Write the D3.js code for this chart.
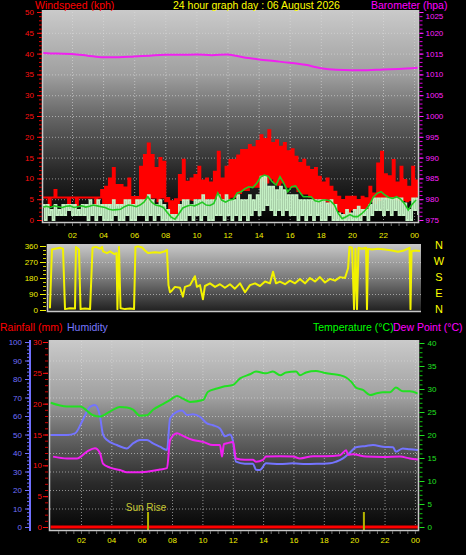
<!DOCTYPE html>
<html><head><meta charset="utf-8">
<script src="https://cdn.jsdelivr.net/npm/d3@7"></script>
<style>html,body{margin:0;padding:0;background:#000;}svg{display:block;}</style>
</head><body><svg id="c" width="466" height="555"></svg>
<script>
// ---------------- DATA ----------------
const titleText = "24 hour graph day : 06 August 2026";
const tickHours = [2,4,6,8,10,12,14,16,18,20,22,24];
const tickLabels = ["02","04","06","08","10","12","14","16","18","20","22","00"];

// wind (kph), 15-minute bins starting 00:07
const windStartHour = 0.125, windStepHours = 0.25;
const gustHigh = [5.4,5.4,5.4,7.2, 5.4,5.4,5.4,5.4, 5.4,5.4,5.4,5.4, 5.4,5.4,5.4,7.2,
  8.0,10.0,12.5,8.4, 8.4,7.8,10.0,5.5, 5.5,12.8,15.6,18.4, 15.6,12.5,14.9,14.0,
  5.3,4.5,5.0,10.8, 14.5,9.2,10.0,10.8, 12.8,9.5,10.0,9.0, 11.6,16.4,10.0,12.8,
  14.4,14.4,15.5,16.8, 16.8,18.0,17.5,19.0, 20.4,19.5,21.6,18.5, 19.2,17.6,18.5,16.5,
  17.0,15.2,13.7,14.5, 12.8,12.0,12.5,10.4, 9.0,10.0,8.0,6.8, 5.6,4.8,5.6,5.6,
  5.6,4.8,5.6,5.2, 8.0,6.4,13.6,16.4, 11.0,10.5,14.4,9.0, 12.8,9.6,8.0,12.8, 9.5];
const gustLow = [5.4,3.6,5.4,5.4, 5.4,5.4,3.6,5.4, 3.6,5.4,5.4,5.4, 5.4,3.6,5.4,3.6,
  3.6,4.0,3.6,3.6, 3.6,4.0,3.6,3.6, 3.6,4.0,4.5,5.4, 5.4,4.5,5.4,4.5,
  1.7,0.6,1.5,4.8, 4.8,5.0,4.8,5.3, 5.0,4.8,5.3,4.8, 5.3,4.8,5.0,5.3,
  5.6,5.6,6.5,7.2, 7.2,8.0,8.0,8.0, 9.5,9.0,10.0,9.0, 8.5,9.0,8.0,8.0,
  8.0,7.0,6.4,6.4, 5.6,4.8,5.2,4.8, 4.5,4.0,3.2,2.4, 2.0,1.6,1.5,2.5,
  1.6,1.0,2.4,3.0, 4.5,4.0,4.8,5.5, 5.2,5.2,5.0,4.8, 4.8,4.5,4.8,5.4, 5.6];
const windHigh = [3.6,3.6,2.4,3.6, 2.4,3.6,3.6,3.6, 3.6,2.4,3.6,3.6, 4.8,3.6,4.8,3.6,
  3.6,3.6,4.8,3.6, 3.6,4.8,4.8,3.6, 4.8,4.8,4.8,6.0, 4.8,3.6,4.8,3.6,
  2.4,1.2,1.2,3.6, 4.8,4.8,3.6,4.8, 4.8,6.0,4.8,4.8, 4.8,6.0,4.8,6.0,
  4.8,4.8,6.0,4.8, 4.8,6.0,4.8,6.0, 10.4,10.4,8.0,8.0, 7.2,8.0,7.2,6.0,
  6.0,6.0,4.8,4.8, 4.8,4.8,4.8,4.8, 4.8,4.0,4.8,3.6, 1.6,1.2,2.4,1.6,
  2.4,3.2,2.4,2.4, 3.6,5.2,5.2,5.2, 5.2,5.2,5.2,5.2, 5.2,4.0,2.4,5.2, 5.2];
const windLow = [0,1.2,0,1.2, 1.2,1.2,2.4,1.2, 1.2,1.2,1.2,0, 1.2,0,1.2,0,
  0,0,1.2,0, 0,1.2,0,0, 1.2,1.2,0,1.2, 0,1.2,0,0,
  0,0,0,0, 0,1.2,0,1.2, 0,1.2,0,0, 1.2,1.2,0,1.2,
  0,1.2,0,1.2, 0,1.2,2.4,1.2, 2.4,3.6,2.4,1.2, 2.4,1.2,2.4,1.2,
  1.2,0,1.2,0, 1.2,0,1.2,0, 0,1.2,0,0, 0,0,0,0,
  0,0,1.2,0, 1.2,2.4,2.4,1.2, 2.4,1.2,2.4,1.2, 1.2,0,0,2.4, 1.2];
const windAvg = [3.1,3.3,3.0,3.4, 3.2,3.0,3.3,3.4, 3.0,3.2,3.4,3.1, 3.3,3.6,3.4,3.2,
  3.0,2.6,2.4,2.5, 2.6,3.2,3.6,3.5, 3.2,3.6,4.3,5.6, 4.3,3.6,3.4,3.0,
  1.8,0.7,0.2,1.5, 2.9,3.3,3.6,3.4, 3.8,4.3,3.6,3.5, 4.0,6.5,4.8,4.3,
  4.8,5.0,6.5,6.8, 7.5,8.0,7.8,8.8, 10.3,10.8,10.5,9.2, 8.4,10.4,8.8,6.8,
  8.0,8.2,6.8,5.6, 5.6,5.6,4.6,4.4, 4.8,4.8,4.6,3.6, 1.6,0.3,0.8,1.3,
  0.8,0.8,1.5,2.4, 3.6,5.5,6.4,6.8, 6.0,5.4,5.2,5.6, 5.0,4.0,2.4,3.8, 4.8];

// barometer (hPa), hourly
const baroHours = [0,1,2,3,4,5,6,7,8,9,10,11,12,13,14,15,16,17,18,19,20,21,22,23,24.3];
const baroValues = [1015.2,1015.0,1014.9,1014.5,1014.1,1014.1,1014.3,1014.5,1014.7,1014.7,1014.8,1014.6,1014.8,
  1014.1,1013.6,1013.2,1012.8,1012.3,1011.5,1011.1,1011.0,1011.0,1011.2,1011.3,1011.6];

// wind direction (degrees)
const dirHours = [0.12,0.25,0.45,0.77,0.97,1.10,1.42,1.75,1.81,2.01,2.11,2.40,2.73,2.89,3.12,3.38,3.51,3.57,3.83,4.03,
  4.29,4.45,4.51,4.61,4.71,5.00,5.33,5.59,5.68,5.85,6.11,6.30,6.50,6.95,7.28,7.60,7.73,7.83,7.93,8.06,
  8.25,8.58,8.77,8.90,9.23,9.55,9.68,9.88,10.07,10.20,10.53,10.86,11.18,11.50,11.83,12.15,12.48,12.81,13.13,13.46,
  13.78,14.11,14.43,14.63,14.82,15.08,15.41,15.73,16.06,16.38,16.71,17.03,17.36,17.68,18.01,18.33,18.66,18.99,19.31,19.51,
  19.60,19.77,19.90,19.99,20.09,20.19,20.42,20.68,20.74,20.81,21.07,21.46,21.91,22.36,22.76,23.15,23.51,23.57,23.64,23.86,24.19];
const dirValues = [10,340,345,350,345,5,10,8,355,340,5,8,5,350,355,345,355,330,320,330,
  315,320,5,355,10,5,8,5,355,358,352,335,320,325,322,330,338,140,100,110,
  130,125,75,130,140,190,130,140,60,135,150,130,145,125,145,120,150,100,140,150,
  135,160,150,215,150,160,145,165,150,175,150,180,160,185,155,175,165,185,180,235,
  355,350,5,345,5,350,345,350,5,345,340,345,340,335,328,335,350,5,330,335,332];

// temperature / dew point (°C), humidity (%), rainfall (mm)
const tempHours = [0,1.08,1.94,2.79,3.25,3.91,4.57,5.03,5.43,5.89,6.35,6.75,7.4,7.86,8.33,8.72,9.18,10.04,10.37,10.96,
  11.36,12.02,12.48,13.14,13.53,14.19,14.65,15.12,15.51,16.17,16.43,16.83,17.49,17.95,18.41,19.07,19.47,19.8,20.12,20.58,
  21.04,21.43,21.89,22.36,22.75,23.21,23.67,24.2];
const tempValues = [27.0,26.2,26.2,24.3,24.0,25.1,26.1,26.0,25.5,24.2,24.3,25.5,26.7,27.6,28.5,27.9,27.2,27.6,29.4,30.1,
  30.5,30.9,32.3,33.2,33.8,33.4,33.8,33.0,33.6,33.8,33.0,33.6,33.9,33.6,33.3,33.0,32.5,31.6,30.3,29.8,
  28.7,29.0,29.3,29.3,30.3,29.5,29.5,29.0];
const dewHours = [0.16,1.08,1.74,2.4,2.92,3.25,3.45,3.91,4.57,5.03,5.89,6.55,7.21,7.67,7.87,8.33,8.72,9.38,10.04,10.7,
  11.16,11.29,11.42,11.62,12.02,12.21,12.8,13.33,13.53,13.99,14.19,15.11,15.97,16.43,17.29,18.14,19.07,19.47,19.6,19.92,
  20.78,21.9,23.02,23.67,24.2];
const dewValues = [15.3,14.9,14.9,16.4,17.1,16.1,13.8,12.9,12.4,11.9,11.9,12.1,12.5,12.8,18.9,20.4,19.8,18.9,18.5,17.8,
  17.8,15.3,18.0,18.2,18.5,14.9,14.6,14.6,14.2,14.6,15.3,15.4,15.3,14.9,15.4,15.4,15.6,16.7,15.7,15.8,
  15.3,15.2,15.3,14.9,14.7];
const humHours = [0,1.08,1.61,2.13,2.6,2.92,3.25,3.45,3.72,4.37,5.03,5.43,5.89,6.35,6.75,7.21,7.67,7.87,8.33,8.66,
  8.99,9.38,9.84,10.3,10.7,11.16,11.49,11.82,12.0,12.21,12.8,13.33,13.53,13.79,14.19,15.11,15.97,16.83,17.75,18.41,
  18.8,19.26,19.72,20.12,20.78,21.24,21.9,22.56,22.75,23.21,23.67,24.2];
const humValues = [49.7,49.7,50.6,58,65,66,60,50,47,44.3,42.5,45.2,47,47,45.2,43.4,41.6,58.7,62.3,63,
  60.5,61,59.6,56,55,53.3,49,50,47,35.3,34.2,34.2,31,30.8,34.4,34,34.4,34,34.2,34.4,
  35.3,37.1,40.2,43.1,43.8,44.3,43.4,43.1,40.7,42.5,42,41.6];
const rainHours = [0,1,2,3,4,5,6,7,8,9,10,11,12,13,14,15,16,17,18,19,20,21,22,23,24.2];
const rainValues = [0,0,0,0,0,0,0,0,0,0,0,0,0,0,0,0,0,0,0,0,0,0,0,0,0];
const sunHours = [6.42, 20.64];
const sunLabels = ["Sun Rise", ""];

// ---------------- DRAW ----------------
const svg = d3.select("#c");
const FONT = "'Liberation Sans', Arial, sans-serif";
const defs = svg.append("defs");
function grad(id, stops) {
  const g = defs.append("linearGradient").attr("id", id).attr("x1",0).attr("y1",0).attr("x2",0).attr("y2",1);
  stops.forEach(s => g.append("stop").attr("offset", s[0]).attr("stop-color", s[1]));
}
grad("g1", [[0,"#cacaca"],[0.3,"#a0a0a0"],[0.5,"#666"],[0.75,"#2a2a2a"],[1,"#000"]]);
grad("g2", [[0,"#c8c8c8"],[0.5,"#7a7a7a"],[1,"#1e1e1e"]]);
grad("g3", [[0,"#cacaca"],[0.3,"#a0a0a0"],[0.5,"#666"],[0.75,"#2a2a2a"],[1,"#050505"]]);

function clip(id, x, y, w, h) {
  defs.append("clipPath").attr("id", id).append("rect").attr("x", x).attr("y", y).attr("width", w).attr("height", h);
}
function txt(x, y, s, color, size, anchor) {
  return svg.append("text").attr("x", x).attr("y", y).text(s).attr("fill", color)
    .attr("font-family", FONT).attr("font-size", size).attr("text-anchor", anchor || "start");
}
function styleAxis(g, color, size) {
  g.select(".domain").remove();
  g.selectAll("line").attr("stroke", color);
  g.selectAll("text").attr("fill", color).attr("font-family", FONT).attr("font-size", size);
  return g;
}
function grid(g) {
  g.select(".domain").remove();
  g.selectAll("line").attr("stroke", "#dcdcdc").attr("stroke-dasharray", "1,2").attr("stroke-opacity", 0.6);
}
const intFmt = d3.format("d");

// ===== Panel 1: wind + barometer =====
const P1 = {l:43, r:418, t:10, b:223};
const x1 = d3.scaleLinear().domain([0,24]).range([40.9, 414.1]);
const y1 = d3.scaleLinear().domain([0,50]).range([220, 12]);
const yBaro = d3.scaleLinear().domain([975,1025]).range([220, 12]);
svg.append("rect").attr("x",P1.l).attr("y",P1.t).attr("width",P1.r-P1.l).attr("height",P1.b-P1.t).attr("fill","url(#g1)");
grid(svg.append("g").attr("transform",`translate(${P1.l},0)`).call(d3.axisLeft(y1).tickValues(d3.range(5,50,5)).tickSize(-(P1.r-P1.l)).tickFormat("")));
grid(svg.append("g").attr("transform",`translate(0,${P1.b})`).call(d3.axisBottom(x1).tickValues(tickHours).tickSize(-(P1.b-P1.t)).tickFormat("")));
clip("cp1", P1.l, P1.t, P1.r-P1.l, P1.b-P1.t-1);
const g1 = svg.append("g").attr("clip-path","url(#cp1)");
const windTimes = gustHigh.map((_, i) => windStartHour + i * windStepHours);
function zig(hi, lo) {
  const pts = [];
  hi.forEach((h, i) => { pts.push([windTimes[i], h]); pts.push([windTimes[i] + windStepHours/2, lo[i]]); });
  return pts;
}
const zline = d3.line().x(d => x1(d[0])).y(d => y1(d[1])).curve(d3.curveStepAfter);
g1.append("path").attr("d", zline(zig(gustHigh, gustLow))).attr("fill","none").attr("stroke","#ff0000").attr("stroke-width",2);
g1.append("path").attr("d", zline(zig(windHigh, windLow))).attr("fill","none").attr("stroke","#c4f0c4").attr("stroke-width",1.8);
g1.append("path").attr("d", d3.line().x((d,i)=>x1(windTimes[i])).y(d=>y1(d))(windAvg))
  .attr("fill","none").attr("stroke","#22c822").attr("stroke-width",1.6);
g1.append("path").attr("d", d3.line().x((d,i)=>x1(baroHours[i])).y(d=>yBaro(d)).curve(d3.curveMonotoneX)(baroValues))
  .attr("fill","none").attr("stroke","#f020f0").attr("stroke-width",2);
// frame
svg.append("path").attr("d",`M${P1.l-0.5},${P1.t}V${P1.b-0.5}H${P1.r+0.5}V${P1.t}`).attr("fill","none").attr("stroke","#c8c8c8").attr("stroke-width",1.5);
// axes
styleAxis(svg.append("g").attr("transform","translate(42,0)").call(d3.axisLeft(y1).ticks(50).tickSize(3).tickFormat("")), "#e00000", 8);
styleAxis(svg.append("g").attr("transform","translate(42,0)").call(d3.axisLeft(y1).tickValues(d3.range(0,51,5)).tickSize(5).tickPadding(3)), "#ff1010", 8);
styleAxis(svg.append("g").attr("transform","translate(419.5,0)").call(d3.axisRight(yBaro).ticks(50).tickSize(3).tickFormat("")), "#e000e0", 8);
const baroAxis = styleAxis(svg.append("g").attr("transform","translate(419.5,0)")
  .call(d3.axisRight(yBaro).tickValues(d3.range(975,1026,5)).tickSize(4).tickPadding(2).tickFormat(intFmt)), "#ff20ff", 8);
baroAxis.selectAll(".tick text").filter(d => d === 1025).attr("dy", "0.75em");
styleAxis(svg.append("g").attr("transform",`translate(0,${P1.b})`).call(d3.axisBottom(x1).tickValues(d3.range(0.5,24.3,0.5)).tickSize(3).tickFormat("")), "#707070", 8);
styleAxis(svg.append("g").attr("transform",`translate(0,${P1.b})`).call(d3.axisBottom(x1).tickValues(tickHours).tickSize(0).tickPadding(9).tickFormat((d,i)=>tickLabels[i])), "#f0f000", 8);
txt(35, 9, "Windspeed (kph)", "#ff0000", 10.5);
txt(173, 9, titleText, "#ffff00", 10.5);
txt(371, 9, "Barometer (hpa)", "#ff00ff", 10.5);

// ===== Panel 2: wind direction =====
const P2 = {l:48, r:421, t:244, b:312};
const x2 = d3.scaleLinear().domain([0,24]).range([48.1, 417.1]);
const yDir = d3.scaleLinear().domain([0,360]).range([310, 246]);
svg.append("rect").attr("x",P2.l).attr("y",P2.t).attr("width",P2.r-P2.l).attr("height",P2.b-P2.t).attr("fill","url(#g2)");
grid(svg.append("g").attr("transform",`translate(${P2.l},0)`).call(d3.axisLeft(yDir).tickValues([90,180,270]).tickSize(-(P2.r-P2.l)).tickFormat("")));
clip("cp2", P2.l, P2.t, P2.r-P2.l, P2.b-P2.t);
svg.append("g").attr("clip-path","url(#cp2)").append("path")
  .attr("d", d3.line().x((d,i)=>x2(dirHours[i])).y(d=>yDir(d))(dirValues))
  .attr("fill","none").attr("stroke","#f2f200").attr("stroke-width",2).attr("stroke-linejoin","round");
svg.append("path").attr("d",`M${P2.l-0.5},${P2.t}V${P2.b-0.5}H${P2.r}`).attr("fill","none").attr("stroke","#c8c8c8").attr("stroke-width",1.5);
styleAxis(svg.append("g").attr("transform","translate(46,0)").call(d3.axisLeft(yDir).tickValues(d3.range(0,361,22.5)).tickSize(3).tickFormat("")), "#d0d000", 8);
styleAxis(svg.append("g").attr("transform","translate(46,0)").call(d3.axisLeft(yDir).tickValues([0,90,180,270,360]).tickSize(6).tickPadding(2)), "#f0f000", 8);
const compass = ["N","W","S","E","N"], compassDeg = [360,270,180,90,0];
compass.forEach((c,i) => txt(439, yDir(compassDeg[i]) + 3, c, "#ffff00", 11, "middle"));

// ===== Panel 3: temperature / humidity / rain =====
const P3 = {l:50, r:418, t:340, b:531};
const x3 = d3.scaleLinear().domain([0,24]).range([50.6, 414.9]);
const yHum = d3.scaleLinear().domain([0,100]).range([527, 342]);
const yRain = d3.scaleLinear().domain([0,30]).range([527, 342]);
const yTemp = d3.scaleLinear().domain([0,40]).range([527, 343]);
svg.append("rect").attr("x",P3.l).attr("y",P3.t).attr("width",P3.r-P3.l).attr("height",P3.b-P3.t).attr("fill","url(#g3)");
grid(svg.append("g").attr("transform",`translate(${P3.l},0)`).call(d3.axisLeft(yHum).tickValues(d3.range(10,100,10)).tickSize(-(P3.r-P3.l)).tickFormat("")));
grid(svg.append("g").attr("transform",`translate(0,${P3.b})`).call(d3.axisBottom(x3).tickValues(tickHours).tickSize(-(P3.b-P3.t)).tickFormat("")));
clip("cp3", P3.l, P3.t, P3.r-P3.l, P3.b-P3.t);
const g3 = svg.append("g").attr("clip-path","url(#cp3)");
g3.append("path").attr("d", d3.line().x((d,i)=>x3(rainHours[i])).y(d=>yRain(d))(rainValues))
  .attr("fill","none").attr("stroke","#ff0000").attr("stroke-width",3);
sunHours.forEach((h,i) => {
  g3.append("line").attr("x1", x3(h)).attr("x2", x3(h)).attr("y1", 512).attr("y2", 531).attr("stroke","#b4b400").attr("stroke-width",2);
});
g3.append("path").attr("d", d3.line().x((d,i)=>x3(humHours[i])).y(d=>yHum(d)).curve(d3.curveMonotoneX)(humValues))
  .attr("fill","none").attr("stroke","#7474ff").attr("stroke-width",2);
g3.append("path").attr("d", d3.line().x((d,i)=>x3(dewHours[i])).y(d=>yTemp(d)).curve(d3.curveMonotoneX)(dewValues))
  .attr("fill","none").attr("stroke","#f020f0").attr("stroke-width",2);
g3.append("path").attr("d", d3.line().x((d,i)=>x3(tempHours[i])).y(d=>yTemp(d)).curve(d3.curveMonotoneX)(tempValues))
  .attr("fill","none").attr("stroke","#22e022").attr("stroke-width",2);
sunHours.forEach((h,i) => { if (sunLabels[i]) txt(x3(h) - 2, 511, sunLabels[i], "#c8c832", 10, "middle"); });
svg.append("path").attr("d",`M${P3.l-0.5},${P3.t}V${P3.b-0.5}H${P3.r+0.5}V${P3.t}`).attr("fill","none").attr("stroke","#c8c8c8").attr("stroke-width",1.5);
// humidity axis
svg.append("line").attr("x1",30).attr("x2",30).attr("y1",340).attr("y2",531).attr("stroke","#7070ff").attr("stroke-width",2);
styleAxis(svg.append("g").attr("transform","translate(29,0)").call(d3.axisLeft(yHum).ticks(50).tickSize(2).tickFormat("")), "#6a6aff", 8);
styleAxis(svg.append("g").attr("transform","translate(29,0)").call(d3.axisLeft(yHum).tickValues(d3.range(0,101,10)).tickSize(4).tickPadding(3)), "#7070ff", 8);
// rain axis
styleAxis(svg.append("g").attr("transform","translate(48,0)").call(d3.axisLeft(yRain).ticks(30).tickSize(3).tickFormat("")), "#d00000", 8);
styleAxis(svg.append("g").attr("transform","translate(48,0)").call(d3.axisLeft(yRain).tickValues(d3.range(0,31,5)).tickSize(5).tickPadding(1)), "#ff1010", 8);
// temp axis
styleAxis(svg.append("g").attr("transform","translate(419.5,0)").call(d3.axisRight(yTemp).ticks(40).tickSize(3).tickFormat("")), "#10c010", 8);
styleAxis(svg.append("g").attr("transform","translate(419.5,0)").call(d3.axisRight(yTemp).tickValues(d3.range(0,41,5)).tickSize(5).tickPadding(3)), "#20e020", 8);
styleAxis(svg.append("g").attr("transform",`translate(0,${P3.b})`).call(d3.axisBottom(x3).tickValues(d3.range(0.5,24.3,0.5)).tickSize(3).tickFormat("")), "#707070", 8);
styleAxis(svg.append("g").attr("transform",`translate(0,${P3.b})`).call(d3.axisBottom(x3).tickValues(tickHours).tickSize(0).tickPadding(6).tickFormat((d,i)=>tickLabels[i])), "#f0f000", 8);
txt(0, 331, "Rainfall (mm)", "#ff0000", 10.5);
txt(67, 331, "Humidity", "#7878ff", 10.5);
txt(313, 331, "Temperature (°C)", "#00ff00", 10.5);
txt(393, 331, "Dew Point (°C)", "#ff00ff", 10.5);
</script></body></html>
